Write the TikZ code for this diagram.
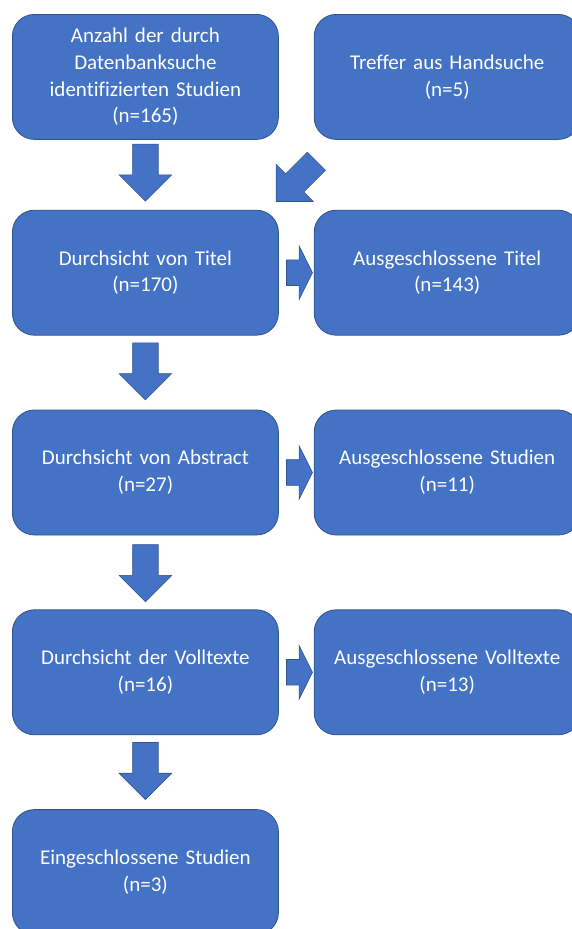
\documentclass[tikz,border=0pt]{standalone}
\usepackage{fontspec}
\setmainfont{Carlito}[Ligatures=NoCommon]
\usetikzlibrary{positioning, shapes.arrows, calc}
\definecolor{boxblue}{HTML}{4472C4}
\definecolor{boxedge}{HTML}{2F528F}

\begin{document}
\begin{tikzpicture}[
  stepbox/.style={rectangle, rounded corners=22pt, fill=boxblue, draw=boxedge, line width=0.8pt,
    minimum width=266pt, minimum height=125pt, text width=250pt, align=center, inner sep=0pt,
    text=white, font=\fontsize{21}{26.7}\selectfont},
  blockarrow/.style={single arrow, fill=boxblue, draw=boxedge, line width=0.6pt,
    inner xsep=0pt, inner ysep=12.5pt},
  downarrow/.style={blockarrow, minimum height=57pt, minimum width=52pt,
    single arrow head extend=13.5pt, rotate=-90, anchor=tail},
  sidearrow/.style={blockarrow, minimum height=26pt, minimum width=53pt,
    single arrow head extend=14pt, single arrow tip angle=127}
]
\useasboundingbox (0,0) rectangle (571pt,-929pt);
% —— linke Spalte ——
\node[stepbox, anchor=north west] (anzahl) at (12pt,-14pt) {Anzahl der durch\\Datenbanksuche\\identifizierten Studien\\(n=165)};
\node[stepbox, below=70pt of anzahl] (titel) {Durchsicht von Titel\\(n=170)};
\node[stepbox, below=74pt of titel] (abstract) {Durchsicht von Abstract\\(n=27)};
\node[stepbox, below=74pt of abstract] (volltext) {Durchsicht der Volltexte\\(n=16)};
\node[stepbox, below=74pt of volltext] (eingeschl) {Eingeschlossene Studien\\(n=3)};
% —— rechte Spalte ——
\node[stepbox, right=35pt of anzahl] (hand) {Treffer aus Handsuche\\(n=5)};
\node[stepbox, right=35pt of titel] (exTitel) {Ausgeschlossene Titel\\(n=143)};
\node[stepbox, right=35pt of abstract] (exStudien) {Ausgeschlossene Studien\\(n=11)};
\node[stepbox, right=35pt of volltext] (exVolltext) {Ausgeschlossene Volltexte\\(n=13)};
% —— Pfeile nach unten ——
\node[downarrow] (p1) at ($(anzahl.south)+(0,-4pt)$) {};
\node[downarrow] (p2) at ($(titel.south)+(0,-7pt)$) {};
\node[downarrow] (p3) at ($(abstract.south)+(0,-9pt)$) {};
\node[downarrow] (p4) at ($(volltext.south)+(0,-7pt)$) {};
% schräger Pfeil von der Handsuche
\node[downarrow, rotate=-45, anchor=tip] (p5) at ($(titel.north east)+(-3pt,8pt)$) {};
% —— Pfeile nach rechts ——
\node[sidearrow] (q1) at ($(titel.east)!0.5!(exTitel.west)$) {};
\node[sidearrow] (q2) at ($(abstract.east)!0.5!(exStudien.west)$) {};
\node[sidearrow] (q3) at ($(volltext.east)!0.5!(exVolltext.west)$) {};
\end{tikzpicture}
\end{document}
